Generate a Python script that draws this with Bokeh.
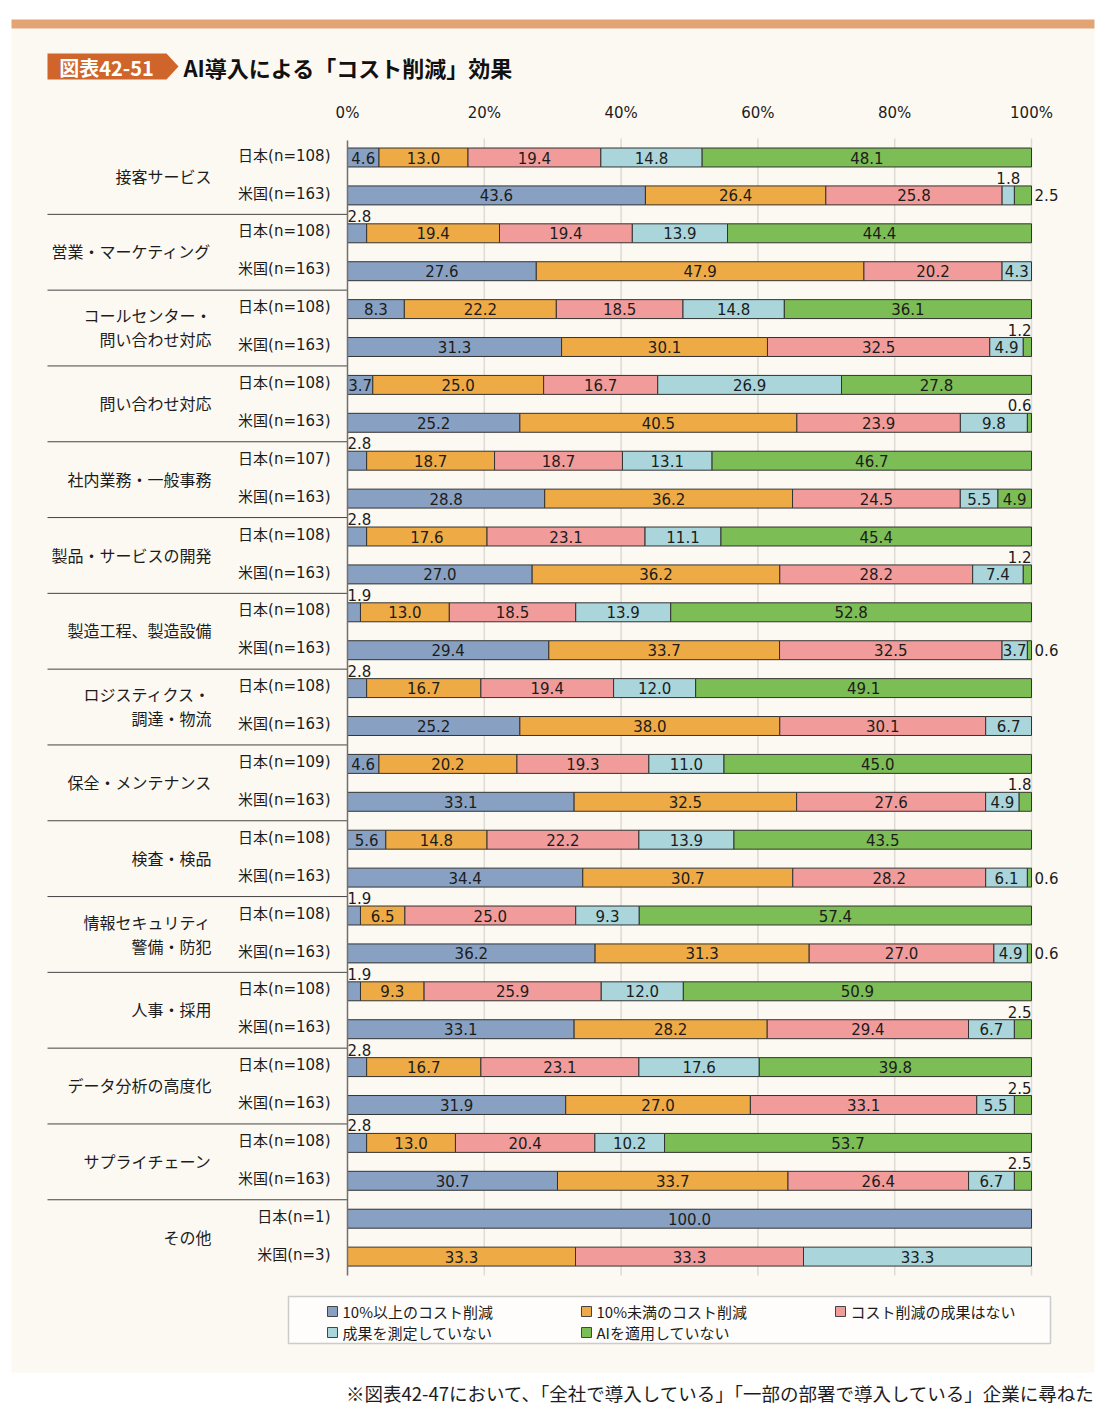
from bokeh.plotting import figure
from bokeh.models import Range1d, ColumnDataSource
from bokeh.embed import file_html
from bokeh.resources import INLINE
from bokeh.core.properties import value

# ---------------- data ----------------
categories = ["接客サービス", "営業・マーケティング", "コールセンター・\n問い合わせ対応", "問い合わせ対応",
              "社内業務・一般事務", "製品・サービスの開発", "製造工程、製造設備", "ロジスティクス・\n調達・物流",
              "保全・メンテナンス", "検査・検品", "情報セキュリティ\n警備・防犯", "人事・採用",
              "データ分析の高度化", "サプライチェーン", "その他"]
jp_labels = ["日本(n=108)", "日本(n=108)", "日本(n=108)", "日本(n=108)", "日本(n=107)", "日本(n=108)",
             "日本(n=108)", "日本(n=108)", "日本(n=109)", "日本(n=108)", "日本(n=108)", "日本(n=108)",
             "日本(n=108)", "日本(n=108)", "日本(n=1)"]
us_labels = ["米国(n=163)"] * 14 + ["米国(n=3)"]
series_names = ["10%以上のコスト削減", "10%未満のコスト削減", "コスト削減の成果はない",
                "成果を測定していない", "AIを適用していない"]
tick_values = [0, 20, 40, 60, 80, 100]
tick_labels = ["0%", "20%", "40%", "60%", "80%", "100%"]

jp_over10 = [4.6, 2.8, 8.3, 3.7, 2.8, 2.8, 1.9, 2.8, 4.6, 5.6, 1.9, 1.9, 2.8, 2.8, 100.0]
jp_under10 = [13.0, 19.4, 22.2, 25.0, 18.7, 17.6, 13.0, 16.7, 20.2, 14.8, 6.5, 9.3, 16.7, 13.0, 0]
jp_none = [19.4, 19.4, 18.5, 16.7, 18.7, 23.1, 18.5, 19.4, 19.3, 22.2, 25.0, 25.9, 23.1, 20.4, 0]
jp_notmeasured = [14.8, 13.9, 14.8, 26.9, 13.1, 11.1, 13.9, 12.0, 11.0, 13.9, 9.3, 12.0, 17.6, 10.2, 0]
jp_notapplied = [48.1, 44.4, 36.1, 27.8, 46.7, 45.4, 52.8, 49.1, 45.0, 43.5, 57.4, 50.9, 39.8, 53.7, 0]

us_over10 = [43.6, 27.6, 31.3, 25.2, 28.8, 27.0, 29.4, 25.2, 33.1, 34.4, 36.2, 33.1, 31.9, 30.7, 0]
us_under10 = [26.4, 47.9, 30.1, 40.5, 36.2, 36.2, 33.7, 38.0, 32.5, 30.7, 31.3, 28.2, 27.0, 33.7, 33.3]
us_none = [25.8, 20.2, 32.5, 23.9, 24.5, 28.2, 32.5, 30.1, 27.6, 28.2, 27.0, 29.4, 33.1, 26.4, 33.3]
us_notmeasured = [1.8, 4.3, 4.9, 9.8, 5.5, 7.4, 3.7, 6.7, 4.9, 6.1, 4.9, 6.7, 5.5, 6.7, 33.3]
us_notapplied = [2.5, 0, 1.2, 0.6, 4.9, 1.2, 0.6, 0, 1.8, 0.6, 0.6, 2.5, 2.5, 2.5, 0]

# US rows whose tiny last value is written to the right of the bar
us_right_label_rows = [0, 6, 9, 10]

title_badge = "図表42-51"
title_text = "AI導入による「コスト削減」効果"
footnote = "※図表42-47において、「全社で導入している」「一部の部署で導入している」企業に尋ねた"

# ---------------- style ----------------
colors = ["#88a1c3", "#eeaa45", "#f19c9b", "#a9d5db", "#7dbd55"]
JP = "Noto Sans CJK JP"
NUM = "DejaVu Sans"
MIX = "DejaVu Sans, Noto Sans CJK JP"
TXT = "#1c1c1c"

W, H = 1106, 1408
OFF = 0                    # page offset of the canvas
X0, SX = 347.0, 6.84       # page px of 0 %, px per %
Y0, SY = 157.0, 37.9       # page px of first row, px per row


def px(xp):
    return (xp - X0) / SX


def py(yp):
    return (yp - Y0) / SY


p = figure(width=W, height=H, output_backend="svg", toolbar_location=None,
           x_axis_type=None, y_axis_type=None, min_border=0,
           x_range=Range1d(px(OFF), px(OFF + W)), y_range=Range1d(py(OFF + H), py(OFF)),
           background_fill_color="white", border_fill_color="white")
p.outline_line_color = None
p.grid.visible = False

# panel + header band
p.quad(left=px(11), right=px(1094), top=py(28), bottom=py(1372), fill_color="#fcf9f3", line_color=None)
p.quad(left=px(11), right=px(1094), top=py(19), bottom=py(28), fill_color="#e3a474", line_color=None)

# title badge
p.patch(x=[px(47), px(166), px(178), px(166), px(47)],
        y=[py(53), py(53), py(66), py(79), py(79)], fill_color="#d0652b", line_color=None)
p.text(x=[px(106)], y=[py(66.5)], text=[title_badge], text_font=value(JP), text_font_style="bold",
       text_font_size="20px", text_color="white", text_align="center", text_baseline="middle")
p.text(x=[px(183)], y=[py(66.5)], text=[title_text], text_font=value(JP), text_font_style="bold",
       text_font_size="22px", text_color="#111111", text_align="left", text_baseline="middle")

# series table
jp_series = [jp_over10, jp_under10, jp_none, jp_notmeasured, jp_notapplied]
us_series = [us_over10, us_under10, us_none, us_notmeasured, us_notapplied]
n_cat = len(categories)
n_rows = 2 * n_cat

# gridlines and axis
for t in tick_values[1:]:
    p.segment(x0=[t], x1=[t], y0=[-0.5], y1=[n_rows - 0.5], line_color="#dedad5", line_width=1.5)
p.text(x=tick_values, y=[py(112)] * len(tick_values), text=tick_labels, text_font=value(NUM),
       text_font_size="15px", text_color=TXT, text_align="center", text_baseline="middle")

# separators between groups
seps = [2 * i + 1.5 for i in range(n_cat - 1)]
p.segment(x0=[px(47)] * len(seps), x1=[0] * len(seps), y0=seps, y1=seps, line_color="#444444", line_width=1)

# bars
bar = dict(y=[], left=[], right=[], color=[])
inside = dict(x=[], y=[], t=[])
above_l = dict(x=[], y=[], t=[])
above_c = dict(x=[], y=[], t=[])
above_r = dict(x=[], y=[], t=[])
right_l = dict(x=[], y=[], t=[])

for i in range(n_cat):
    for k, series in enumerate((jp_series, us_series)):
        row = 2 * i + k
        vals = [s[i] for s in series]
        total = sum(vals)
        cum = 0.0
        for j, v in enumerate(vals):
            if v <= 0:
                continue
            left = cum
            right = cum + v * 100.0 / total
            cum = right
            bar["y"].append(row)
            bar["left"].append(left)
            bar["right"].append(right)
            bar["color"].append(colors[j])
            lab = f"{v:.1f}"
            if v >= 3.0:
                inside["x"].append((left + right) / 2)
                inside["y"].append(row)
                inside["t"].append(lab)
            elif k == 1 and j == 4 and i in us_right_label_rows:
                right_l["x"].append(right + 0.45)
                right_l["y"].append(row)
                right_l["t"].append(lab)
            else:
                yy = row - 0.46
                if j == 0:
                    d, xx = above_l, left
                elif j == 4:
                    d, xx = above_r, right
                else:
                    d, xx = above_c, (left + right) / 2
                d["x"].append(xx)
                d["y"].append(yy)
                d["t"].append(lab)

p.hbar(y="y", left="left", right="right", height=0.5, fill_color="color", line_color="#333333",
       line_width=1, source=ColumnDataSource(bar))

# axis line at 0 %
p.segment(x0=[0], x1=[0], y0=[-0.45], y1=[n_rows - 0.5], line_color="#707070", line_width=1.5)

lab_style = dict(text_font=value(NUM), text_font_size="15px", text_color=TXT)
p.text(x="x", y="y", text="t", source=ColumnDataSource(inside), text_align="center",
       text_baseline="middle", **lab_style)
p.text(x="x", y="y", text="t", source=ColumnDataSource(right_l), text_align="left",
       text_baseline="middle", **lab_style)
p.text(x="x", y="y", text="t", source=ColumnDataSource(above_l), text_align="left",
       text_baseline="middle", **lab_style)
p.text(x="x", y="y", text="t", source=ColumnDataSource(above_c), text_align="center",
       text_baseline="middle", **lab_style)
p.text(x="x", y="y", text="t", source=ColumnDataSource(above_r), text_align="right",
       text_baseline="middle", **lab_style)

# row labels
sub = dict(x=[], y=[], t=[])
for i in range(n_cat):
    for k, labs in enumerate((jp_labels, us_labels)):
        sub["x"].append(px(330))
        sub["y"].append(2 * i + k - 0.05)
        sub["t"].append(labs[i])
p.text(x="x", y="y", text="t", source=ColumnDataSource(sub), text_font=value(MIX), text_font_size="15px",
       text_color=TXT, text_align="right", text_baseline="middle")

cat = dict(x=[], y=[], t=[])
for i, c in enumerate(categories):
    lines = c.split("\n")
    center = 2 * i + 0.48
    if len(lines) == 1:
        offs = [0.0]
    else:
        offs = [-0.32, 0.32]
    for ln, o in zip(lines, offs):
        cat["x"].append(px(211))
        cat["y"].append(center + o)
        cat["t"].append(ln)
p.text(x="x", y="y", text="t", source=ColumnDataSource(cat), text_font=value(JP), text_font_size="16px",
       text_color=TXT, text_align="right", text_baseline="middle")

# legend
p.quad(left=px(288), right=px(1050), top=py(1296), bottom=py(1343), fill_color="#fefdfb",
       line_color="#cccccc", line_width=1.5)
leg_x = [327, 581, 835, 327, 581]
leg_y = [1311, 1311, 1311, 1332, 1332]
p.scatter(x=[px(xx + 5) for xx in leg_x], y=[py(yy) for yy in leg_y], marker="square", size=10,
          fill_color=colors, line_color="#444444", line_width=1)
p.text(x=[px(xx + 15) for xx in leg_x], y=[py(yy) for yy in leg_y], text=series_names,
       text_font=value(JP), text_font_size="15px", text_color=TXT, text_align="left",
       text_baseline="middle")

# footnote
p.text(x=[px(1095)], y=[py(1392)], text=[footnote], text_font=value(JP), text_font_size="18.5px",
       text_color=TXT, text_align="right", text_baseline="middle")

open("out.html", "w").write(file_html(p, INLINE))
